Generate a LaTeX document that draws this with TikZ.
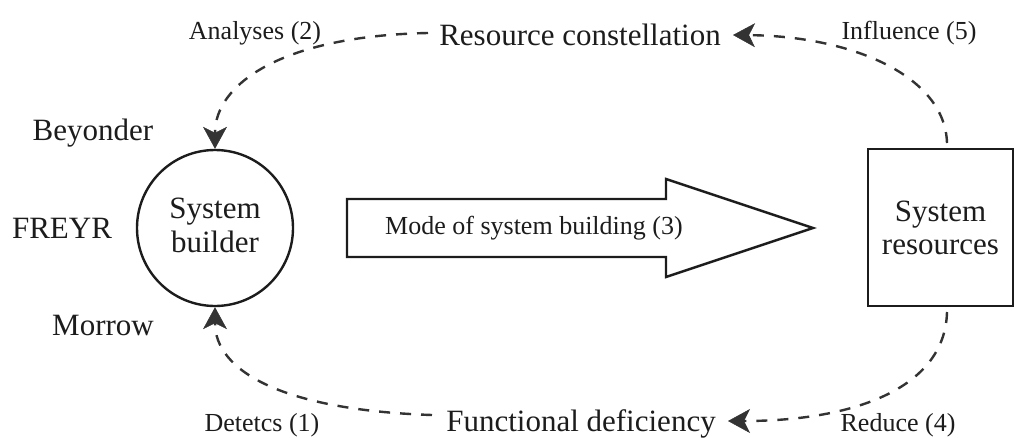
\documentclass[tikz,border=0pt]{standalone}
\usepackage{fontspec}
\setmainfont{Liberation Serif}
\usetikzlibrary{arrows.meta}

\definecolor{ink}{HTML}{1C1C1C}

\tikzset{
  bigtext/.style={font=\fontsize{31}{34}\selectfont, text=ink, inner sep=0pt},
  smalltext/.style={font=\fontsize{26}{30}\selectfont, text=ink, inner sep=0pt},
  outline/.style={draw=ink, line width=2.4pt},
  flow/.style={draw=ink!90, line width=2.4pt, dash pattern=on 11pt off 10pt,
    -{Stealth[length=22pt, width=24pt, inset=6pt, line width=0.5pt, fill=ink!90]}},
}

\begin{document}
\begin{tikzpicture}[x=1pt, y=-1pt]
  \useasboundingbox (0,0) rectangle (1014,437);

  % actors
  \node[outline, circle, minimum size=156pt, inner sep=0pt, align=center,
        font=\fontsize{31}{34}\selectfont, text=ink]
        (builder) at (215,228) {System\\builder\rule[-6pt]{0pt}{6pt}};
  \node[outline, rectangle, minimum width=145pt, minimum height=157pt,
        inner sep=0pt, align=center, font=\fontsize{31}{33}\selectfont, text=ink]
        (resources) at (940.5,227.5) {System\\resources};

  % names on the left
  \node[bigtext, anchor=base] (beyonder) at (93,140) {Beyonder};
  \node[bigtext, anchor=base] (freyr) at (62,238) {FREYR};
  \node[bigtext, anchor=base] (morrow) at (103,335) {Morrow};

  % block arrow: mode of system building
  \draw[outline, fill=white, line join=miter]
    (347,199) -- (666,199) -- (666,179) -- (813,228) -- (666,277)
    -- (666,257) -- (347,257) -- cycle;
  \node[smalltext, anchor=base west] (mode) at (385,234) {Mode of system building (3)};

  % middle texts of the loop
  \node[bigtext, anchor=base] (constellation) at (580,45) {Resource constellation};
  \node[bigtext, anchor=base] (deficiency) at (581,431) {Functional deficiency};

  % step labels
  \node[smalltext, anchor=base] (analyses) at (255,39) {Analyses (2)};
  \node[smalltext, anchor=base] (influence) at (909,39) {Influence (5)};
  \node[smalltext, anchor=base] (detects) at (262,431) {Detetcs (1)};
  \node[smalltext, anchor=base] (reduce) at (898,431) {Reduce (4)};

  % loop end points
  \coordinate (rtop) at (947,143);
  \coordinate (rbot) at (947,312);
  \coordinate (ctail) at (428,33);
  \coordinate (chead) at (733,35);
  \coordinate (dtail) at (432,415);
  \coordinate (dhead) at (728,421);

  % dashed loop
  \draw[flow] (rtop) .. controls (945,75) and (850,36) .. (chead);
  \draw[flow] (ctail) .. controls (280,36) and (215,85) .. (builder.north);
  \draw[flow] (dtail) .. controls (280,410) and (215,370) .. (builder.south);
  \draw[flow] (rbot) .. controls (945,390) and (850,421) .. (dhead);
\end{tikzpicture}
\end{document}
